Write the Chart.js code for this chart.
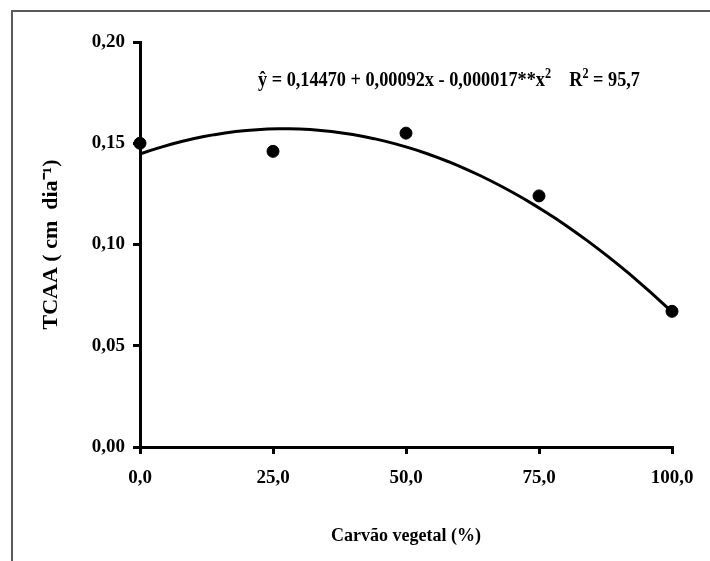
<!DOCTYPE html>
<html>
<head>
<meta charset="utf-8">
<script src="https://cdn.jsdelivr.net/npm/chart.js@4/dist/chart.umd.min.js"></script>
<style>
  html, body { margin: 0; padding: 0; background: #fff; }
  canvas { display: block; }
</style>
</head>
<body>
<canvas id="c" width="710" height="561"></canvas>
<script>
// Charcoal dose (%) and measured growth rate TCAA (cm dia-1)
const doses = [0, 25, 50, 75, 100];
const tcaa = [0.150, 0.146, 0.155, 0.124, 0.067];

// Quadratic fit: y = b0 + b1*x + b2*x^2
const coefs = [0.14470, 0.00092, -0.000017];
const coefDecimals = [5, 5, 6];
const r2 = 95.7;

const xTickValues = [0, 25, 50, 75, 100];
const yTickValues = [0, 0.05, 0.10, 0.15, 0.20];

const fitXs = [];
for (let x = 0; x <= 100; x += 2) fitXs.push(x);
const fitPoints = fitXs.map(x => ({ x, y: coefs[0] + coefs[1] * x + coefs[2] * x * x }));
const obsPoints = doses.map((d, i) => ({ x: d, y: tcaa[i] }));

const comma = (v, d) => v.toFixed(d).replace('.', ',');
const SERIF = '"Liberation Serif", "Times New Roman", serif';

// Outer frame (top and left edges)
const framePlugin = {
  id: 'frame',
  beforeDraw(chart) {
    const ctx = chart.ctx;
    ctx.save();
    ctx.strokeStyle = '#5a5a5a';
    ctx.lineWidth = 2;
    ctx.beginPath();
    ctx.moveTo(710, 11);
    ctx.lineTo(12, 11);
    ctx.lineTo(12, 561);
    ctx.stroke();
    ctx.restore();
  }
};

// Regression equation above the curve
const equationPlugin = {
  id: 'equation',
  afterDraw(chart) {
    const ctx = chart.ctx;
    const size = 21, supSize = 14;
    const parts = [
      { t: '\u0177 = ' + comma(coefs[0], coefDecimals[0]) + ' + ' + comma(coefs[1], coefDecimals[1]) +
           'x - ' + comma(Math.abs(coefs[2]), coefDecimals[2]) + '**x' },
      { t: '2', sup: true },
      { t: '    R' },
      { t: '2', sup: true },
      { t: ' = ' + comma(r2, 1) }
    ];
    ctx.save();
    let total = 0;
    parts.forEach(p => {
      ctx.font = 'bold ' + (p.sup ? supSize : size) + 'px ' + SERIF;
      p.w = ctx.measureText(p.t).width;
      total += p.w;
    });
    const left = 258, width = 382, base = 86;
    const sx = width / total;
    ctx.translate(left, base);
    ctx.scale(sx, 1);
    ctx.fillStyle = '#000';
    ctx.textBaseline = 'alphabetic';
    let x = 0;
    parts.forEach(p => {
      ctx.font = 'bold ' + (p.sup ? supSize : size) + 'px ' + SERIF;
      ctx.fillText(p.t, x, p.sup ? -8 : 0);
      x += p.w;
    });
    ctx.restore();
  }
};

new Chart(document.getElementById('c'), {
  type: 'scatter',
  data: {
    datasets: [
      {
        type: 'line',
        data: fitPoints,
        borderColor: '#000',
        borderWidth: 3,
        pointRadius: 0,
        tension: 0,
        fill: false,
        clip: false,
        order: 2
      },
      {
        data: obsPoints,
        backgroundColor: '#000',
        borderColor: '#000',
        pointRadius: 6,
        pointHoverRadius: 6,
        clip: false,
        order: 1
      }
    ]
  },
  options: {
    responsive: false,
    animation: false,
    events: [],
    layout: { padding: { top: 42, right: 38, left: 38, bottom: 0 } },
    plugins: { legend: { display: false }, tooltip: { enabled: false } },
    scales: {
      x: {
        type: 'linear',
        min: 0, max: 100,
        afterBuildTicks(scale) { scale.ticks = xTickValues.map(v => ({ value: v })); },
        afterFit(scale) { scale.height = 114; },
        border: { display: true, color: '#000', width: 3 },
        grid: { display: true, drawOnChartArea: false, drawTicks: true, tickLength: 7, color: '#000', lineWidth: 3 },
        ticks: {
          color: '#000',
          font: { family: SERIF, size: 19, weight: 'bold' },
          padding: 13,
          maxRotation: 0,
          callback: v => comma(v, 1)
        },
        title: {
          display: true,
          text: 'Carvão vegetal (%)',
          color: '#000',
          font: { family: SERIF, size: 18, weight: 'bold' },
          padding: { top: 0, bottom: 14 }
        }
      },
      y: {
        type: 'linear',
        min: 0, max: 0.2,
        afterBuildTicks(scale) { scale.ticks = yTickValues.map(v => ({ value: v })); },
        afterFit(scale) { scale.width = 102; },
        border: { display: true, color: '#000', width: 3 },
        grid: { display: true, drawOnChartArea: false, drawTicks: true, tickLength: 7, color: '#000', lineWidth: 3 },
        ticks: {
          color: '#000',
          font: { family: SERIF, size: 19, weight: 'bold' },
          padding: 8,
          callback: v => comma(v, 2)
        },
        title: {
          display: true,
          text: 'TCAA ( cm  dia\u207B\u00B9)',
          color: '#000',
          font: { family: SERIF, size: 22, weight: 'bold' },
          padding: 0
        }
      }
    }
  },
  plugins: [framePlugin, equationPlugin]
});
</script>
</body>
</html>
